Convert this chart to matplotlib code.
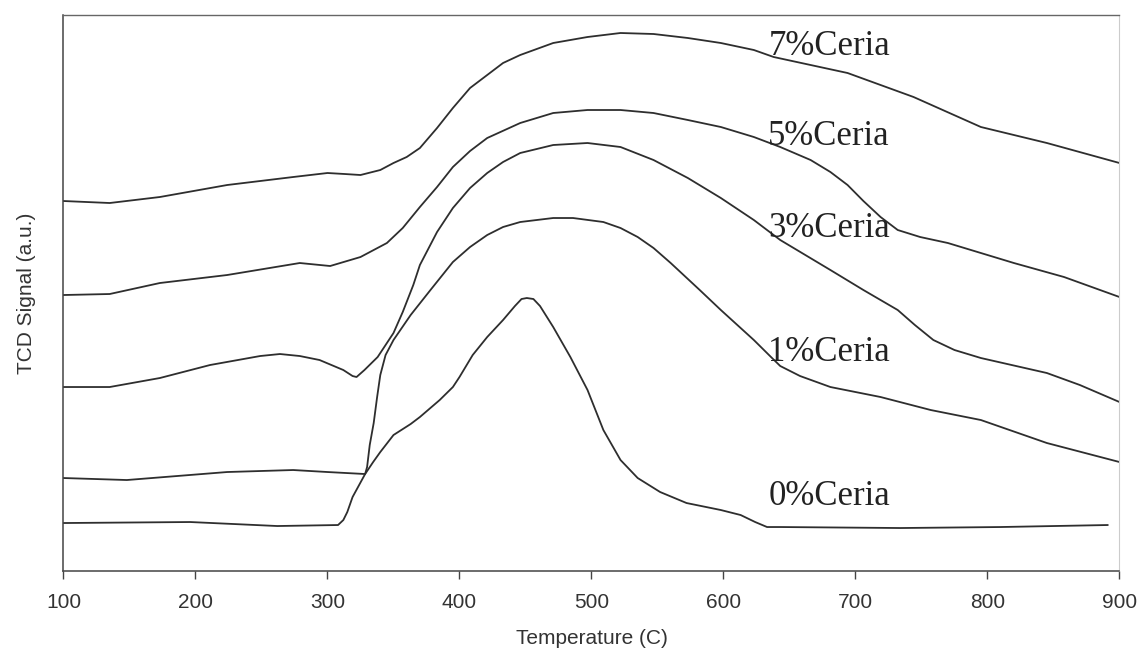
import matplotlib
matplotlib.use("Agg")
import matplotlib.pyplot as plt

# TPR traces (temperature in C, signal in arbitrary units, curves offset)
temp_0 = [100, 196, 262, 308, 312, 315, 319, 328.5, 334.6, 340, 350, 363, 370, 385, 395, 400,
          410, 421, 433, 442, 447, 451, 456, 461, 471, 484, 497, 509, 522, 535, 552, 572,
          598, 613, 624, 633, 643, 734, 810, 891]
tcd_0 = [48, 49, 45, 46, 51, 59, 74, 97, 109, 119, 136, 147, 154, 171, 184, 194,
         216, 234, 251, 265, 272, 273, 272, 265, 244, 214, 181, 141, 111, 93, 79, 68,
         61, 56, 49, 44, 44, 43, 44, 46]

temp_1 = [100, 148, 224, 274, 300, 328.5, 330, 332, 335, 337.6, 340, 344, 350, 363, 378, 395,
          408, 421, 433, 446, 471, 486, 509, 522, 535, 547, 560, 582, 598, 623, 636, 643,
          658, 681, 719, 757, 795, 845, 900]
tcd_1 = [93, 91, 99, 101, 99, 97, 104, 126, 148, 174, 196, 216, 231, 256, 281, 309,
         324, 336, 344, 349, 353, 353, 349, 343, 334, 323, 308, 281, 261, 231, 214, 205,
         195, 184, 174, 161, 151, 128, 109]

temp_3 = [100, 135, 173, 211, 249, 264, 279, 294, 312, 319, 322, 328, 338, 350, 357, 365,
          370, 383, 395, 408, 421, 433, 446, 471, 497, 522, 547, 573, 598, 623, 643, 681,
          706, 732, 745, 759, 775, 795, 845, 870, 900]
tcd_3 = [184, 184, 193, 206, 215, 217, 215, 211, 201, 195, 194, 201, 214, 238, 259, 286,
         306, 339, 363, 383, 398, 409, 418, 426, 428, 424, 411, 393, 373, 351, 331, 301,
         281, 261, 246, 231, 221, 213, 198, 186, 169]

temp_5 = [100, 135, 173, 224, 279, 302, 325, 345, 357, 370, 383, 395, 408, 421, 446, 471,
          497, 522, 547, 573, 598, 623, 643, 666, 681, 694, 706, 719, 732, 749, 770, 820,
          858, 900]
tcd_5 = [276, 277, 288, 296, 308, 305, 314, 328, 343, 364, 384, 404, 420, 433, 448, 458,
         461, 461, 458, 451, 444, 434, 424, 411, 399, 386, 370, 354, 341, 334, 328, 308,
         294, 274]

temp_7 = [100, 135, 173, 224, 274, 300, 313, 325, 340, 350, 360, 370, 383, 395, 408, 421,
          433, 446, 471, 497, 522, 547, 573, 598, 623, 638, 694, 744, 795, 845, 900]
tcd_7 = [370, 368, 374, 386, 394, 398, 397, 396, 401, 408, 414, 423, 443, 463, 483, 496,
         508, 516, 528, 534, 538, 537, 533, 528, 521, 514, 498, 474, 444, 428, 408]

labels = ["7%Ceria", "5%Ceria", "3%Ceria", "1%Ceria", "0%Ceria"]
label_y = [516, 426, 334, 210, 66]
label_x = [634, 634, 634, 634, 634]
xticks = [100, 200, 300, 400, 500, 600, 700, 800, 900]

fig = plt.figure(figsize=(11.4, 6.55), dpi=100)
ax = fig.add_axes([0.0557, 0.1282, 0.9263, 0.8489])

line_col = "#2e2e2e"
for t, s in [(temp_0, tcd_0), (temp_1, tcd_1), (temp_3, tcd_3), (temp_5, tcd_5), (temp_7, tcd_7)]:
    ax.plot(t, s, color=line_col, lw=1.3)

for txt, x, y in zip(labels, label_x, label_y):
    ax.text(x, y, txt, family="Liberation Serif", fontsize=25, color="#222222",
            ha="left", va="baseline")

ax.set_xlim(100, 900)
ax.set_ylim(0, 556)
ax.set_xticks(xticks)
ax.set_xticklabels([str(v) for v in xticks], family="Liberation Sans", fontsize=15, color="#333333")
ax.set_yticks([])
ax.tick_params(axis="x", direction="out", length=6, width=1, pad=10, colors="#444444")
ax.tick_params(axis="x", labelcolor="#333333")

for side in ["left", "bottom"]:
    ax.spines[side].set_color("#444444")
    ax.spines[side].set_linewidth(1.1)
ax.spines["top"].set_color("#666666")
ax.spines["top"].set_linewidth(1.0)
ax.spines["right"].set_color("#cccccc")
ax.spines["right"].set_linewidth(0.8)

ax.set_xlabel("Temperature (C)", family="Liberation Sans", fontsize=15, color="#333333")
ax.set_ylabel("TCD Signal (a.u.)", family="Liberation Sans", fontsize=15, color="#333333")
ax.xaxis.set_label_coords(0.5, -0.104)
ax.yaxis.set_label_coords(-0.026, 0.5)

plt.savefig("out.png", dpi=100)
